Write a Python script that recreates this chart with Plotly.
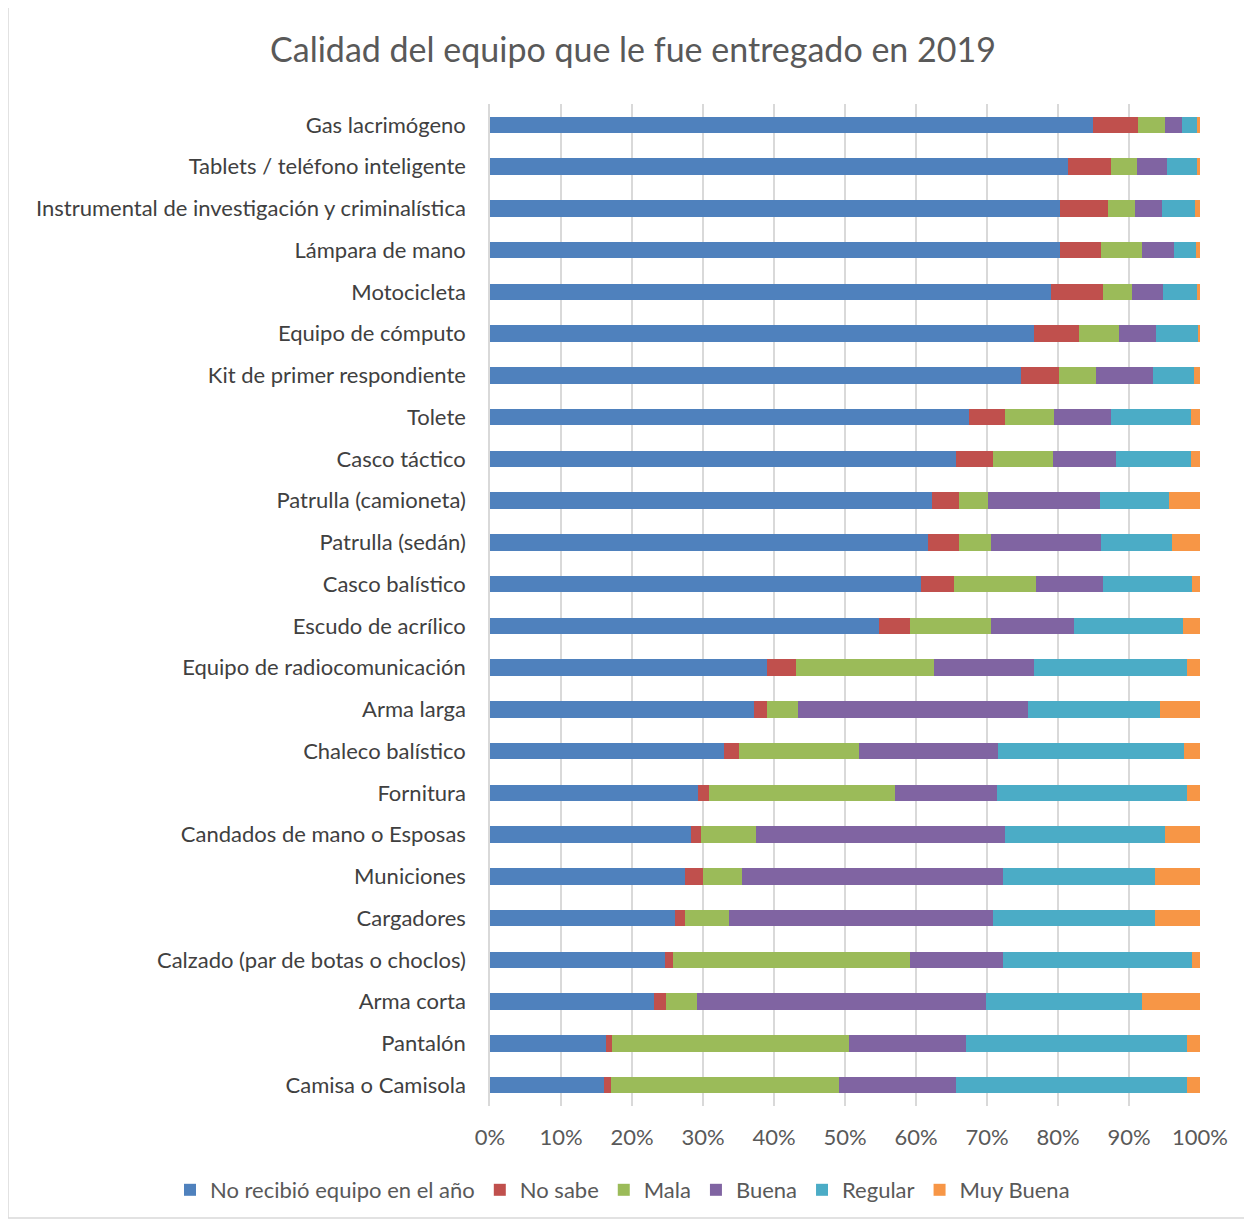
import plotly.graph_objects as go

categories = [
    "Gas lacrimógeno",
    "Tablets / teléfono inteligente",
    "Instrumental de investigación y criminalística",
    "Lámpara de mano",
    "Motocicleta",
    "Equipo de cómputo",
    "Kit de primer respondiente",
    "Tolete",
    "Casco táctico",
    "Patrulla (camioneta)",
    "Patrulla (sedán)",
    "Casco balístico",
    "Escudo de acrílico",
    "Equipo de radiocomunicación",
    "Arma larga",
    "Chaleco balístico",
    "Fornitura",
    "Candados de mano o Esposas",
    "Municiones",
    "Cargadores",
    "Calzado (par de botas o choclos)",
    "Arma corta",
    "Pantalón",
    "Camisa o Camisola",
]

no_recibio = [84.9, 81.4, 80.3, 80.3, 79.0, 76.6, 74.8, 67.5, 65.7, 62.3, 61.7, 60.7,
              54.8, 39.0, 37.2, 33.0, 29.3, 28.3, 27.5, 26.0, 24.6, 23.1, 16.3, 16.1]
no_sabe = [6.4, 6.0, 6.7, 5.7, 7.3, 6.3, 5.3, 5.1, 5.2, 3.7, 4.3, 4.6,
           4.3, 4.1, 1.8, 2.0, 1.6, 1.4, 2.5, 1.4, 1.2, 1.7, 0.9, 1.0]
mala = [3.8, 3.7, 3.8, 5.8, 4.1, 5.7, 5.3, 6.9, 8.4, 4.1, 4.6, 11.6,
        11.4, 19.4, 4.4, 17.0, 26.1, 7.8, 5.5, 6.3, 33.4, 4.3, 33.3, 32.0]
buena = [2.4, 4.2, 3.8, 4.5, 4.4, 5.2, 8.0, 8.0, 8.9, 15.8, 15.4, 9.4,
         11.8, 14.1, 32.4, 19.5, 14.4, 35.1, 36.8, 37.2, 13.1, 40.8, 16.6, 16.6]
regular = [2.1, 4.3, 4.7, 3.2, 4.8, 6.0, 5.8, 11.2, 10.6, 9.7, 10.1, 12.6,
           15.3, 21.6, 18.5, 26.2, 26.8, 22.4, 21.3, 22.8, 26.6, 22.0, 31.1, 32.5]
muy_buena = [0.4, 0.4, 0.7, 0.5, 0.4, 0.2, 0.8, 1.3, 1.2, 4.4, 3.9, 1.1,
             2.4, 1.8, 5.7, 2.3, 1.8, 5.0, 6.4, 6.3, 1.1, 8.1, 1.8, 1.8]

series = [
    ("No recibió equipo en el año", no_recibio, "#4F81BD"),
    ("No sabe", no_sabe, "#C0504D"),
    ("Mala", mala, "#9BBB59"),
    ("Buena", buena, "#8064A2"),
    ("Regular", regular, "#4BACC6"),
    ("Muy Buena", muy_buena, "#F79646"),
]

fig = go.Figure()
for name, vals, color in series:
    fig.add_trace(go.Bar(
        y=categories, x=vals, name=name, orientation="h",
        marker=dict(color=color, line=dict(width=0)),
    ))

OFF = 8  # page body margin
W, H = 1252 - OFF, 1222 - OFF
ml, mr, mt, mb = 490 - OFF, 52, 104 - OFF, 1222 - 1106
pw, ph = W - ml - mr, H - mt - mb

fig.update_layout(
    width=W, height=H,
    barmode="stack", barnorm="percent", bargap=0.6,
    plot_bgcolor="white", paper_bgcolor="white",
    margin=dict(l=ml, r=mr, t=mt, b=mb, autoexpand=False),
    font=dict(family="Lato, 'Open Sans', sans-serif", size=22, color="#404040"),
    title=dict(text="Calidad del equipo que le fue entregado en 2019",
               x=(633 - OFF) / W, xref="container", xanchor="center",
               y=1 - (50 - OFF) / H, yref="container", yanchor="middle",
               font=dict(size=34, color="#595959")),
    legend=dict(orientation="h", x=(170 - 490) / pw, xref="paper", xanchor="left",
                y=-(1190 - 1106) / ph, yref="paper", yanchor="middle",
                font=dict(size=22, color="#595959"), traceorder="normal",
                tracegroupgap=0, itemwidth=30),
    xaxis=dict(range=[0, 100], dtick=10, ticksuffix="%", showgrid=True,
               gridcolor="#d9d9d9", gridwidth=1.5, zeroline=False,
               tickfont=dict(size=22, color="#595959"), fixedrange=True,
               ticks="", ticklabelstandoff=16),
    yaxis=dict(autorange="reversed", showline=True, linecolor="#d9d9d9",
               linewidth=1.5, tickfont=dict(size=22, color="#404040"),
               ticks="", ticklabelstandoff=18),
    shapes=[dict(type="rect", xref="paper", yref="paper",
                 x0=(8 - 490) / pw, x1=(1246 - 490) / pw,
                 y0=(1106 - 1218) / ph, y1=(1106 - 5) / ph,
                 line=dict(color="#d9d9d9", width=1.5), layer="below")],
)

fig.write_html("out.html")
